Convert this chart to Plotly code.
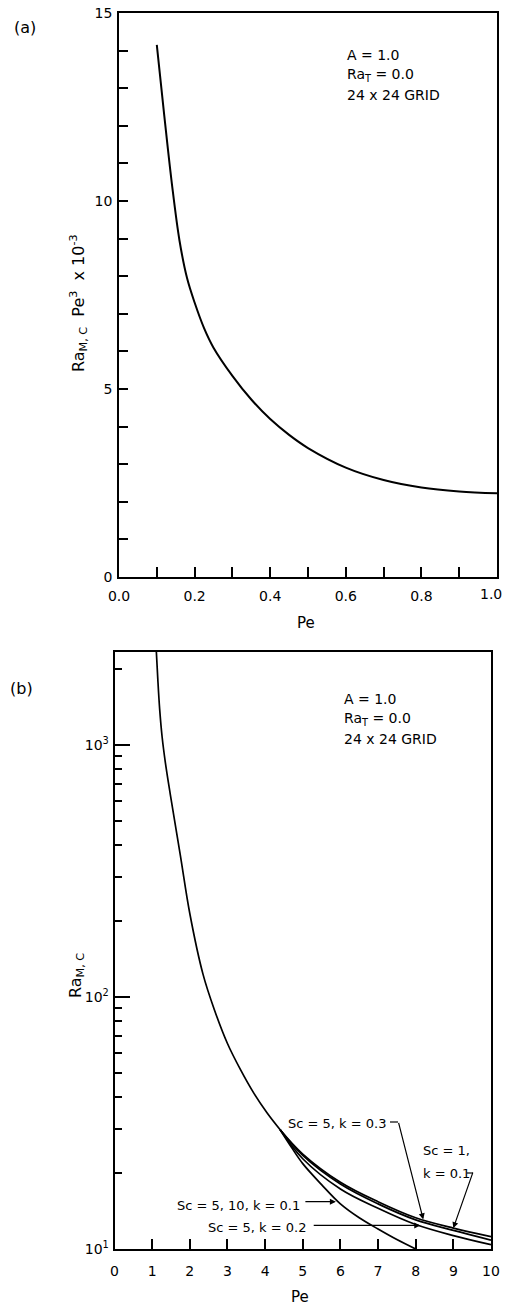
import plotly.graph_objects as go
import numpy as np

# page body has an 8px margin, so the figure is drawn 8px smaller and coords are shifted
OFF = 8
W, H = 511 - OFF, 1306 - OFF

# ---------------- Panel (a) data ----------------
pe_a = [0.10, 0.12, 0.14, 0.16, 0.18, 0.20, 0.225, 0.25, 0.30, 0.35, 0.40,
        0.45, 0.50, 0.60, 0.70, 0.80, 0.90, 1.00]
ra_pe3_a = [14.15, 12.25, 10.45, 8.95, 7.95, 7.3, 6.62, 6.1, 5.35, 4.72, 4.2,
            3.78, 3.43, 2.91, 2.58, 2.38, 2.275, 2.225]

# ---------------- Panel (b) data ----------------
pe_common = [1.10, 1.15, 1.20, 1.265, 1.35, 1.485, 1.75, 2.0, 2.35, 2.65, 3.0,
             3.35, 3.7, 4.05, 4.4]
ra_common = [2512, 1820, 1380, 1072, 851, 631, 363, 214, 123, 89.1, 65.3,
             51.3, 41.5, 34.7, 29.7]

pe_branch = [4.4, 5.0, 6.0, 7.0, 8.0, 9.0, 10.0]
ra_sc1_k01 = [29.7, 23.8, 18.4, 15.4, 13.3, 12.1, 11.2]
ra_sc5_k03 = [29.7, 23.5, 18.1, 15.1, 13.05, 11.85, 10.85]
ra_sc5_k02 = [29.7, 22.8, 17.3, 14.5, 12.5, 11.3, 10.4]

pe_low = [4.4, 4.7, 5.0, 5.5, 6.0, 6.5, 7.0, 7.5, 8.0]
ra_sc5_10_k01 = [29.7, 25.3, 21.8, 18.0, 15.1, 13.3, 12.0, 10.9, 10.0]

# tick values
xa_ticks = [0.0, 0.2, 0.4, 0.6, 0.8, 1.0]
xa_ticktext = ["0.0", "0.2", "0.4", "0.6", "0.8", ""]   # "1.0" drawn as a label at the edge
xa_minor = [0.1, 0.3, 0.5, 0.7, 0.9]
ya_ticks = [0, 5, 10, 15]
ya_minor = [1, 2, 3, 4, 6, 7, 8, 9, 11, 12, 13, 14]
xb_ticks = list(range(0, 11))
yb_ticks = [10, 100, 1000]
yb_ticktext = ["10<sup>1</sup>", "10<sup>2</sup>", "10<sup>3</sup>"]
yb_minor = [20, 30, 40, 50, 60, 70, 80, 90, 200, 300, 400, 500, 600, 700, 800, 900, 2000]

FONT = "DejaVu Sans"
BLACK = "black"


def P(px, py):
    return (px - OFF) / W, 1 - (py - OFF) / H


def PX(px):
    return (px - OFF) / W


def PY(py):
    return 1 - (py - OFF) / H


fig = go.Figure()

fig.add_trace(go.Scatter(x=pe_a, y=ra_pe3_a, mode="lines",
                         line=dict(color=BLACK, width=2, shape="spline", smoothing=1.0),
                         xaxis="x", yaxis="y", showlegend=False))

for xs, ys in [(pe_common, ra_common), (pe_branch, ra_sc1_k01),
               (pe_branch, ra_sc5_k03), (pe_branch, ra_sc5_k02),
               (pe_low, ra_sc5_10_k01)]:
    fig.add_trace(go.Scatter(x=xs, y=ys, mode="lines",
                             line=dict(color=BLACK, width=1.7, shape="spline", smoothing=1.0),
                             xaxis="x2", yaxis="y2", showlegend=False))

TICKFONT = dict(family=FONT, size=14, color=BLACK)
axis_common = dict(showline=True, linecolor=BLACK, linewidth=1.7, mirror=True,
                   showgrid=False, zeroline=False, ticks="inside", tickcolor=BLACK,
                   tickwidth=1.5, tickfont=TICKFONT, automargin=False,
                   ticklabeloverflow="allow")

fig.update_layout(
    width=W, height=H,
    margin=dict(l=0, r=0, t=0, b=0),
    paper_bgcolor="white", plot_bgcolor="white",
    font=dict(family=FONT, color=BLACK),
    xaxis=dict(axis_common, domain=[PX(119), PX(497)], anchor="y", range=[0, 1],
               tickmode="array", tickvals=xa_ticks, ticktext=xa_ticktext,
               ticklen=10, ticklabelstandoff=5,
               minor=dict(tickmode="array", tickvals=xa_minor,
                          ticks="inside", ticklen=10, tickwidth=1.5, tickcolor=BLACK)),
    yaxis=dict(axis_common, domain=[PY(577), PY(13)], anchor="x", range=[0, 15],
               tickmode="array", tickvals=ya_ticks, ticklen=9, ticklabelstandoff=2,
               minor=dict(tickmode="array", tickvals=ya_minor,
                          ticks="inside", ticklen=9, tickwidth=1.5, tickcolor=BLACK)),
    xaxis2=dict(axis_common, domain=[PX(114.5), PX(491)], anchor="y2", range=[0, 10],
                tickmode="array", tickvals=xb_ticks, ticklen=10, ticklabelstandoff=8),
    yaxis2=dict(axis_common, domain=[PY(1249), PY(652)], anchor="x2", type="log",
                range=[1, np.log10(2330)],
                tickmode="array", tickvals=yb_ticks, ticktext=yb_ticktext,
                ticklen=16, ticklabelstandoff=1,
                minor=dict(tickmode="array", tickvals=yb_minor, ticks="inside",
                           ticklen=8, tickwidth=1.5, tickcolor=BLACK)),
)

ann = []


def text(px, py, s, size=14, xanchor="left", yanchor="middle", angle=0):
    x, y = P(px, py)
    ann.append(dict(x=x, y=y, xref="paper", yref="paper", text=s, showarrow=False,
                    xanchor=xanchor, yanchor=yanchor, textangle=angle,
                    font=dict(family=FONT, size=size, color=BLACK)))


# last x tick label of (a), kept inside the window edge
text(504, 594, "1.0", size=14, xanchor="right")

# panel labels
text(12, 27, "(a)", size=16)
text(8, 688, "(b)", size=16)

# axis titles
text(306, 623, "Pe", size=15, xanchor="center")
text(300, 1297, "Pe", size=15, xanchor="center")
text(78, 303, "Ra<sub>M, C</sub>  Pe<sup>3</sup>  x 10<sup>-3</sup>", size=16,
     xanchor="center", angle=-90)
text(76, 976, "Ra<sub>M, C</sub>", size=16, xanchor="center", angle=-90)

# parameter boxes
for (px, py0) in [(345, 55), (342, 699)]:
    text(px, py0, "A = 1.0")
    text(px, py0 + 20, "Ra<sub>T</sub> = 0.0")
    text(px, py0 + 40, "24 x 24 GRID")

# curve labels (b)
text(388, 1123, "Sc = 5, k = 0.3", size=13, xanchor="right")
text(421, 1150, "Sc = 1,", size=13)
text(421, 1173, "k = 0.1", size=13)
text(302, 1205, "Sc = 5, 10, k = 0.1", size=13, xanchor="right")
text(308, 1227, "Sc = 5, k = 0.2", size=13, xanchor="right")


def arrow(pe, ra, ax, ay):
    ann.append(dict(x=pe, y=np.log10(ra), xref="x2", yref="y2", text="", showarrow=True,
                    arrowhead=2, arrowsize=1, arrowwidth=1.2, arrowcolor=BLACK,
                    ax=ax, ay=ay, axref="pixel", ayref="pixel", standoff=0))


arrow(8.2, 13.1, -25, -98)
arrow(9.0, 12.1, 20, -57)
arrow(5.88, 15.4, -32, 0)
arrow(8.12, 12.4, -108, 0)

fig.update_layout(annotations=ann)

# small hooks at the label ends
shapes = []
for (x0, y0, x1, y1) in [(390, 1122, 398, 1122), (467, 1173, 473, 1173)]:
    a, b = P(x0, y0)
    c, d = P(x1, y1)
    shapes.append(dict(type="line", xref="paper", yref="paper", x0=a, y0=b, x1=c, y1=d,
                       line=dict(color=BLACK, width=1.2)))
fig.update_layout(shapes=shapes)

fig.write_html("out.html")
